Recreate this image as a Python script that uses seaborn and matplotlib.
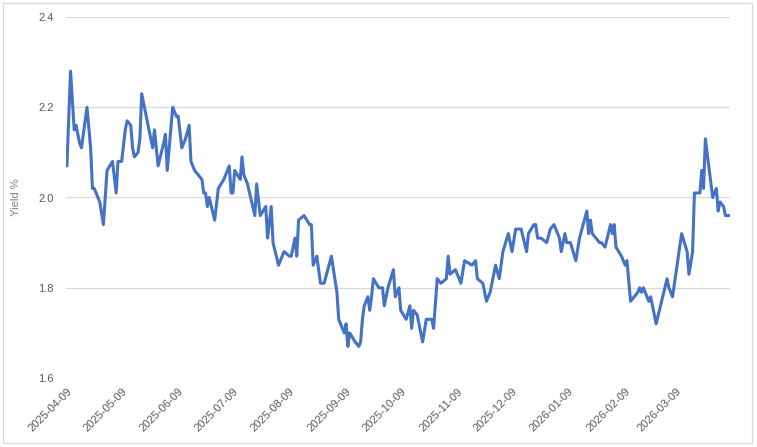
import matplotlib
matplotlib.use("Agg")
import matplotlib.pyplot as plt
import matplotlib.dates as mdates
from matplotlib.patches import Rectangle
import pandas as pd
import seaborn as sns

dates = [
    "2025-04-09", "2025-04-11", "2025-04-13", "2025-04-14", "2025-04-16", "2025-04-17",
    "2025-04-20", "2025-04-22", "2025-04-23", "2025-04-24", "2025-04-27", "2025-04-29",
    "2025-05-01", "2025-05-04", "2025-05-06", "2025-05-07", "2025-05-09", "2025-05-11",
    "2025-05-12", "2025-05-14", "2025-05-15", "2025-05-16", "2025-05-18", "2025-05-19",
    "2025-05-20", "2025-05-22", "2025-05-25", "2025-05-26", "2025-05-27", "2025-05-29",
    "2025-06-01", "2025-06-02", "2025-06-03", "2025-06-06", "2025-06-08", "2025-06-09",
    "2025-06-11", "2025-06-13", "2025-06-15", "2025-06-16", "2025-06-18", "2025-06-20",
    "2025-06-22", "2025-06-23", "2025-06-24", "2025-06-25", "2025-06-26", "2025-06-29",
    "2025-07-01", "2025-07-04", "2025-07-05", "2025-07-07", "2025-07-08", "2025-07-09",
    "2025-07-10", "2025-07-13", "2025-07-14", "2025-07-15", "2025-07-17", "2025-07-21",
    "2025-07-22", "2025-07-24", "2025-07-27", "2025-07-28", "2025-07-30", "2025-07-31",
    "2025-08-03", "2025-08-06", "2025-08-09", "2025-08-10", "2025-08-12", "2025-08-13",
    "2025-08-14", "2025-08-17", "2025-08-20", "2025-08-21", "2025-08-22", "2025-08-24",
    "2025-08-26", "2025-08-28", "2025-09-01", "2025-09-04", "2025-09-05", "2025-09-08",
    "2025-09-09", "2025-09-10", "2025-09-11", "2025-09-14", "2025-09-16", "2025-09-17",
    "2025-09-18", "2025-09-19", "2025-09-21", "2025-09-22", "2025-09-23", "2025-09-24",
    "2025-09-27", "2025-09-29", "2025-09-30", "2025-10-02", "2025-10-05", "2025-10-06",
    "2025-10-08", "2025-10-09", "2025-10-12", "2025-10-14", "2025-10-15", "2025-10-16",
    "2025-10-18", "2025-10-21", "2025-10-23", "2025-10-26", "2025-10-27", "2025-10-29",
    "2025-10-31", "2025-11-03", "2025-11-04", "2025-11-05", "2025-11-08", "2025-11-11",
    "2025-11-13", "2025-11-17", "2025-11-19", "2025-11-20", "2025-11-23", "2025-11-25",
    "2025-11-27", "2025-11-30", "2025-12-02", "2025-12-04", "2025-12-07", "2025-12-09",
    "2025-12-11", "2025-12-14", "2025-12-17", "2025-12-18", "2025-12-21", "2025-12-22",
    "2025-12-23", "2025-12-25", "2025-12-28", "2025-12-30", "2026-01-01", "2026-01-04",
    "2026-01-05", "2026-01-07", "2026-01-08", "2026-01-10", "2026-01-13", "2026-01-15",
    "2026-01-19", "2026-01-20", "2026-01-21", "2026-01-22", "2026-01-26", "2026-01-27",
    "2026-01-29", "2026-02-01", "2026-02-02", "2026-02-03", "2026-02-04", "2026-02-07",
    "2026-02-09", "2026-02-10", "2026-02-12", "2026-02-16", "2026-02-17", "2026-02-18",
    "2026-02-19", "2026-02-22", "2026-02-23", "2026-02-26", "2026-03-01", "2026-03-04",
    "2026-03-05", "2026-03-07", "2026-03-12", "2026-03-15", "2026-03-16", "2026-03-18",
    "2026-03-19", "2026-03-22", "2026-03-23", "2026-03-24", "2026-03-25", "2026-03-29",
    "2026-03-31", "2026-04-01", "2026-04-02", "2026-04-04", "2026-04-05", "2026-04-07",
]

yields = [
    2.07, 2.28, 2.15, 2.16, 2.12, 2.11,
    2.20, 2.11, 2.02, 2.02, 1.99, 1.94,
    2.06, 2.08, 2.01, 2.08, 2.08, 2.15,
    2.17, 2.16, 2.11, 2.09, 2.10, 2.13,
    2.23, 2.19, 2.13, 2.11, 2.15, 2.07,
    2.12, 2.14, 2.06, 2.20, 2.18, 2.18,
    2.11, 2.13, 2.16, 2.08, 2.06, 2.05,
    2.04, 2.01, 2.01, 1.98, 2.00, 1.95,
    2.02, 2.04, 2.05, 2.07, 2.01, 2.01,
    2.06, 2.04, 2.09, 2.05, 2.03, 1.96,
    2.03, 1.96, 1.98, 1.91, 1.98, 1.90,
    1.85, 1.88, 1.87, 1.87, 1.91, 1.87,
    1.95, 1.96, 1.94, 1.94, 1.85, 1.87,
    1.81, 1.81, 1.87, 1.79, 1.73, 1.70,
    1.72, 1.67, 1.70, 1.68, 1.67, 1.68,
    1.73, 1.76, 1.78, 1.75, 1.78, 1.82,
    1.80, 1.80, 1.76, 1.80, 1.84, 1.78,
    1.80, 1.75, 1.73, 1.76, 1.71, 1.75,
    1.74, 1.68, 1.73, 1.73, 1.71, 1.82,
    1.81, 1.82, 1.87, 1.83, 1.84, 1.81,
    1.86, 1.85, 1.86, 1.82, 1.81, 1.77,
    1.79, 1.85, 1.82, 1.88, 1.92, 1.88,
    1.93, 1.93, 1.88, 1.92, 1.94, 1.94,
    1.91, 1.91, 1.90, 1.93, 1.94, 1.91,
    1.88, 1.92, 1.90, 1.90, 1.86, 1.91,
    1.97, 1.92, 1.95, 1.92, 1.90, 1.90,
    1.89, 1.94, 1.92, 1.94, 1.89, 1.87,
    1.85, 1.86, 1.77, 1.79, 1.80, 1.79,
    1.80, 1.77, 1.78, 1.72, 1.77, 1.82,
    1.80, 1.78, 1.92, 1.88, 1.83, 1.88,
    2.01, 2.01, 2.06, 2.02, 2.13, 2.00,
    2.02, 1.97, 1.99, 1.98, 1.96, 1.96,
]

y_ticks = [1.6, 1.8, 2.0, 2.2, 2.4]
y_label = "Yield %"

df = pd.DataFrame({"date": pd.to_datetime(dates), "yield": yields})

sns.set_theme(style="white")
plt.rcParams["font.family"] = ["Liberation Sans", "DejaVu Sans"]

W, H = 757, 447
fig = plt.figure(figsize=(W / 100, H / 100), dpi=100)
ax = fig.add_axes([66 / W, 1 - 378 / H, (730 - 66) / W, (378 - 17) / H])

sns.lineplot(data=df, x="date", y="yield", ax=ax, color="#4472C4", linewidth=2.2)
for ln in ax.get_lines():
    ln.set_solid_joinstyle("round")
    ln.set_solid_capstyle("round")

ax.set_ylim(1.6, 2.4)
ax.set_yticks(y_ticks)
ax.yaxis.set_major_formatter(matplotlib.ticker.FormatStrFormatter("%.1f"))
ax.set_xlim(pd.Timestamp("2025-04-08 12:00"), pd.Timestamp("2026-04-07 12:00"))
ax.xaxis.set_major_locator(mdates.MonthLocator(bymonthday=9))
ax.xaxis.set_major_formatter(mdates.DateFormatter("%Y-%m-%d"))

ax.grid(axis="y", color="#D9D9D9", linewidth=0.9)
ax.grid(axis="x", visible=False)
for s in ax.spines.values():
    s.set_visible(False)

ax.tick_params(axis="y", length=0, pad=9, labelsize=8, labelcolor="#595959")
ax.tick_params(axis="x", length=0, pad=6, labelsize=8, labelcolor="#595959")
for lbl in ax.get_xticklabels():
    lbl.set_rotation(45)
    lbl.set_ha("right")
    lbl.set_va("top")
    lbl.set_rotation_mode("anchor")

ax.set_xlabel("")
ax.set_ylabel(y_label, fontsize=8, color="#7F7F7F", labelpad=12)

fig.patches.append(Rectangle((3 / W, 4 / H), 749 / W, 440 / H, transform=fig.transFigure,
                             fill=False, edgecolor="#D9D9D9", linewidth=0.9))

fig.savefig("out.png", dpi=100)
